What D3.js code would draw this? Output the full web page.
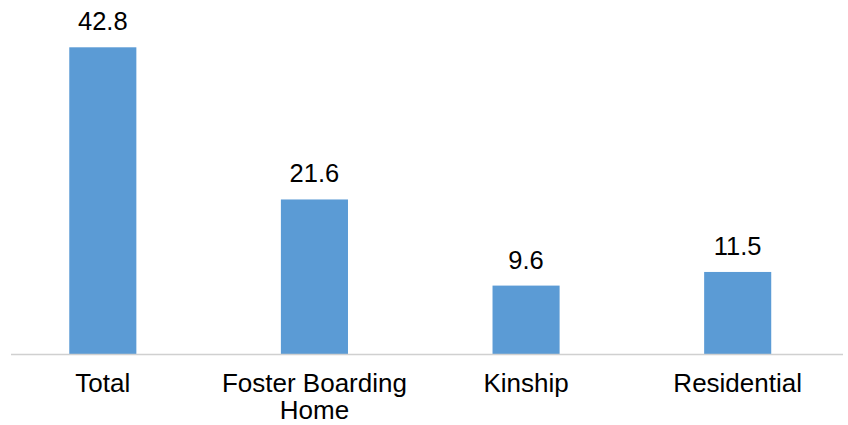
<!DOCTYPE html>
<html>
<head>
<meta charset="utf-8">
<script src="https://cdn.jsdelivr.net/npm/d3@7"></script>
<style>
  html, body { margin: 0; padding: 0; background: #fff; }
  svg { display: block; font-family: "Liberation Sans", Arial, sans-serif; }
</style>
</head>
<body>
<svg id="chart" width="848" height="425"></svg>
<script>
// Placement types and their values
const categories = ["Total", "Foster Boarding Home", "Kinship", "Residential"];
const categoryLines = [["Total"], ["Foster Boarding", "Home"], ["Kinship"], ["Residential"]];
const values = [42.8, 21.6, 9.6, 11.5];

const W = 848, H = 425;
const baseline = 354.5;
const svg = d3.select("#chart");

const x = d3.scaleBand()
  .domain(categories)
  .range([-3, 843.5])
  .paddingInner(0)
  .paddingOuter(0);

const y = d3.scaleLinear()
  .domain([0, 42.8])
  .range([baseline, 47.3]);

const barW = x.bandwidth() * 0.317;

// bars
svg.selectAll("rect.bar")
  .data(values)
  .join("rect")
  .attr("class", "bar")
  .attr("x", (d, i) => x(categories[i]) + x.bandwidth() / 2 - barW / 2)
  .attr("y", d => y(d))
  .attr("width", barW)
  .attr("height", d => baseline - y(d))
  .attr("fill", "#5b9bd5");

// baseline axis
svg.append("line")
  .attr("x1", 11).attr("x2", 843)
  .attr("y1", baseline).attr("y2", baseline)
  .attr("stroke", "#d0d0d0")
  .attr("stroke-width", 1.5);

// value labels
svg.selectAll("text.val")
  .data(values)
  .join("text")
  .attr("class", "val")
  .attr("x", (d, i) => x(categories[i]) + x.bandwidth() / 2)
  .attr("y", d => y(d) - 17)
  .attr("text-anchor", "middle")
  .attr("font-size", 25.5)
  .attr("fill", "#000")
  .text(d => d.toFixed(1));

// category labels
const labels = svg.selectAll("text.cat")
  .data(categoryLines)
  .join("text")
  .attr("class", "cat")
  .attr("x", (d, i) => x(categories[i]) + x.bandwidth() / 2)
  .attr("y", 392)
  .attr("text-anchor", "middle")
  .attr("font-size", 26)
  .attr("fill", "#000");

labels.selectAll("tspan")
  .data((d, i) => d.map(t => ({ t, i })))
  .join("tspan")
  .attr("x", d => x(categories[d.i]) + x.bandwidth() / 2)
  .attr("dy", (d, j) => j === 0 ? 0 : 27)
  .text(d => d.t);
</script>
</body>
</html>
